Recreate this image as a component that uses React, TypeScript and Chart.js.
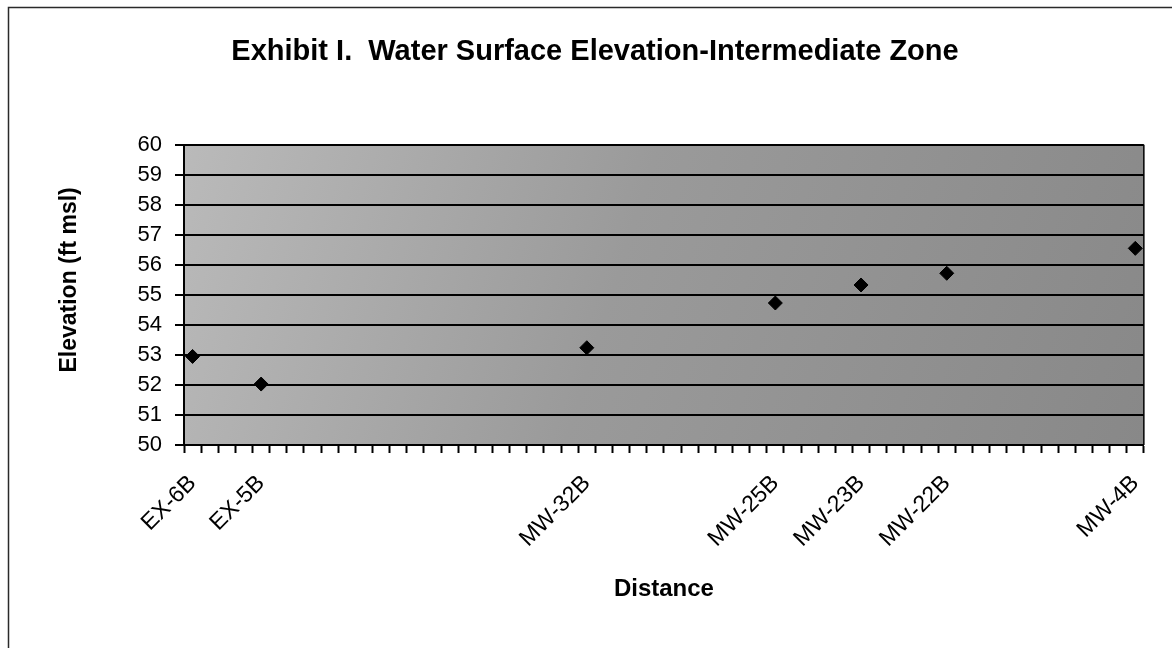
import { useEffect, useRef } from 'react';
import { Chart, registerables } from 'chart.js';

Chart.register(...registerables);

// ---- data ----
const chartTitle = 'Exhibit I.  Water Surface Elevation-Intermediate Zone';
const yAxisTitle = 'Elevation (ft msl)';
const xAxisTitle = 'Distance';
const slotCount = 56; // number of category slots along the distance axis
const wellNames = ['EX-6B', 'EX-5B', 'MW-32B', 'MW-25B', 'MW-23B', 'MW-22B', 'MW-4B'];
const wellSlots = [0, 4, 23, 34, 39, 44, 55];
const elevations = [52.95, 52.03, 53.24, 54.73, 55.33, 55.72, 56.55];
const yMin = 50;
const yMax = 60;
const yStep = 1;

const labels: string[] = Array.from({ length: slotCount }, (_, i) => {
  const k = wellSlots.indexOf(i);
  return k >= 0 ? wellNames[k] : '';
});
const values: (number | null)[] = Array.from({ length: slotCount }, (_, i) => {
  const k = wellSlots.indexOf(i);
  return k >= 0 ? elevations[k] : null;
});

const backgroundPlugin = {
  id: 'bgFrame',
  beforeDraw(chart: any) {
    const { ctx, chartArea: a, width, height } = chart;
    ctx.save();
    ctx.fillStyle = '#ffffff';
    ctx.fillRect(0, 0, width, height);
    // outer frame
    ctx.strokeStyle = '#2a2a2a';
    ctx.lineWidth = 1.5;
    ctx.beginPath();
    ctx.moveTo(8.5, height);
    ctx.lineTo(8.5, 7.5);
    ctx.lineTo(width, 7.5);
    ctx.stroke();
    // plot area fill
    const g = ctx.createLinearGradient(a.left, a.top, a.right, a.bottom);
    g.addColorStop(0, '#bababa');
    g.addColorStop(0.45, '#9a9a9a');
    g.addColorStop(1, '#888888');
    ctx.fillStyle = g;
    ctx.fillRect(a.left, a.top, a.right - a.left, a.bottom - a.top);
    ctx.restore();
  },
  beforeDatasetsDraw(chart: any) {
    const { ctx, chartArea: a } = chart;
    ctx.save();
    ctx.strokeStyle = '#000';
    ctx.lineWidth = 1.5;
    ctx.beginPath();
    ctx.moveTo(a.right, a.top);
    ctx.lineTo(a.right, a.bottom);
    ctx.stroke();
    ctx.restore();
  },
  afterDraw(chart: any) {
    const { ctx, chartArea: a } = chart;
    ctx.save();
    ctx.fillStyle = '#000';
    ctx.font = 'bold 23px "Liberation Sans", Arial, sans-serif';
    ctx.textAlign = 'center';
    ctx.textBaseline = 'middle';
    ctx.translate(a.left - 114, (a.top + a.bottom) / 2 - 15);
    ctx.rotate(-Math.PI / 2);
    ctx.fillText(yAxisTitle, 0, 0);
    ctx.restore();
  },
};

export default function App() {
  const ref = useRef<HTMLCanvasElement | null>(null);

  useEffect(() => {
    if (!ref.current) return;
    const chart = new Chart(ref.current, {
      type: 'line',
      data: {
        labels,
        datasets: [
          {
            label: 'Elevation',
            data: values,
            showLine: false,
            pointStyle: 'rectRot',
            pointRadius: 7,
            pointBackgroundColor: '#000',
            pointBorderColor: '#000',
            pointBorderWidth: 1,
          },
        ],
      },
      options: {
        animation: false,
        responsive: true,
        maintainAspectRatio: false,
        layout: { padding: { left: 40, right: 22, top: 0, bottom: 20 } },
        plugins: {
          legend: { display: false },
          tooltip: { enabled: false },
          title: {
            display: true,
            text: chartTitle,
            color: '#000',
            font: { family: '"Liberation Sans", Arial, sans-serif', size: 29, weight: 'bold' },
            padding: { top: 35, bottom: 75 },
          },
        },
        scales: {
          x: {
            type: 'category',
            offset: true,
            grid: {
              offset: true,
              drawOnChartArea: false,
              drawTicks: true,
              tickLength: 8,
              tickColor: '#000',
              tickWidth: 2,
            },
            border: { display: true, color: '#000', width: 2 },
            ticks: {
              autoSkip: false,
              minRotation: 45,
              maxRotation: 45,
              padding: 17,
              labelOffset: 0,
              color: '#000',
              font: { family: '"Liberation Sans", Arial, sans-serif', size: 23 },
            },
            title: {
              display: true,
              text: xAxisTitle,
              color: '#000',
              font: { family: '"Liberation Sans", Arial, sans-serif', size: 24, weight: 'bold' },
              padding: { top: 0, bottom: 24 },
            },
            afterFit(scale: any) {
              scale.height = 183;
            },
          },
          y: {
            min: yMin,
            max: yMax,
            grid: {
              color: '#000',
              lineWidth: 2,
              drawTicks: true,
              tickLength: 9,
              tickColor: '#000',
              tickWidth: 2,
            },
            border: { display: true, color: '#000', width: 2 },
            ticks: {
              stepSize: yStep,
              padding: 13,
              color: '#000',
              font: { family: '"Liberation Sans", Arial, sans-serif', size: 22 },
            },
            afterFit(scale: any) {
              scale.width = 144;
            },
          },
        },
      },
      plugins: [backgroundPlugin],
    });
    return () => chart.destroy();
  }, []);

  return (
    <div style={{ position: 'absolute', left: 0, top: 0, width: 1172, height: 648, background: '#fff' }}>
      <canvas ref={ref} />
    </div>
  );
}
